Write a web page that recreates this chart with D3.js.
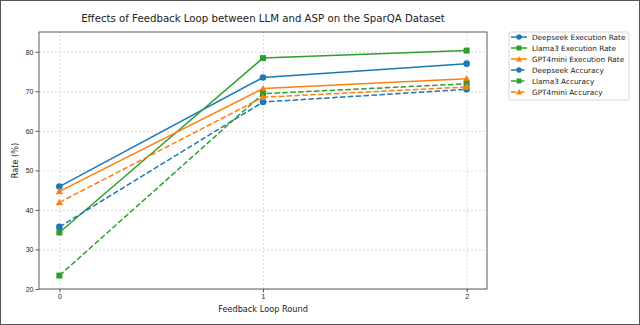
<!DOCTYPE html>
<html>
<head>
<meta charset="utf-8">
<script src="https://cdn.jsdelivr.net/npm/d3@7"></script>
<style>
  body { margin: 0; background: #fff; }
  svg { display: block; font-family: "DejaVu Sans", sans-serif; }
  .grid line { stroke: #d0d0d0; stroke-dasharray: 2,2; stroke-width: 0.8; }
  .grid path { display: none; }
  .axis path, .axis line { stroke: #333; stroke-width: 0.8; }
  .axis text { font-size: 7px; fill: #222; }
</style>
</head>
<body>
<div id="chart"></div>
<script>
// === data ===
const rounds = [0, 1, 2];
const yTicks = [20, 30, 40, 50, 60, 70, 80];

const deepseekExec = [45.9, 73.5, 77.0];
const llama3Exec   = [34.3, 78.4, 80.3];
const gpt4miniExec = [44.7, 70.7, 73.2];
const deepseekAcc  = [35.7, 67.3, 70.5];
const llama3Acc    = [23.4, 69.4, 71.9];
const gpt4miniAcc  = [41.9, 68.5, 71.1];

const series = [
  {name: "Deepseek Execution Rate", values: deepseekExec, color: "#1f77b4", marker: "circle", dashed: false},
  {name: "Llama3 Execution Rate",   values: llama3Exec,   color: "#2ca02c", marker: "square", dashed: false},
  {name: "GPT4mini Execution Rate", values: gpt4miniExec, color: "#ff7f0e", marker: "triangle", dashed: false},
  {name: "Deepseek Accuracy",       values: deepseekAcc,  color: "#1f77b4", marker: "circle", dashed: true},
  {name: "Llama3 Accuracy",         values: llama3Acc,    color: "#2ca02c", marker: "square", dashed: true},
  {name: "GPT4mini Accuracy",       values: gpt4miniAcc,  color: "#ff7f0e", marker: "triangle", dashed: true}
];

// === layout ===
const width = 640, height = 325;
const plot = {left: 39, right: 487, top: 32, bottom: 289};

const svg = d3.select("#chart").append("svg")
  .attr("width", width).attr("height", height);

svg.append("rect").attr("x", 0.5).attr("y", 0.5)
  .attr("width", width - 1).attr("height", height - 1)
  .attr("fill", "#fff").attr("stroke", "#555").attr("stroke-width", 1);

const x = d3.scaleLinear().domain([-0.1, 2.1]).range([plot.left, plot.right]);
const y = d3.scaleLinear().domain([20, 85]).range([plot.bottom, plot.top]);

// grid
svg.append("g").attr("class", "grid")
  .attr("transform", `translate(0,${plot.bottom})`)
  .call(d3.axisBottom(x).tickValues(rounds).tickSize(-(plot.bottom - plot.top)).tickFormat(""));
svg.append("g").attr("class", "grid")
  .attr("transform", `translate(${plot.left},0)`)
  .call(d3.axisLeft(y).tickValues(yTicks).tickSize(-(plot.right - plot.left)).tickFormat(""));

// axes
svg.append("g").attr("class", "axis")
  .attr("transform", `translate(0,${plot.bottom})`)
  .call(d3.axisBottom(x).tickValues(rounds).tickFormat(d3.format("d")).tickSize(3.5).tickPadding(2))
  .select(".domain").remove();
svg.append("g").attr("class", "axis")
  .attr("transform", `translate(${plot.left},0)`)
  .call(d3.axisLeft(y).tickValues(yTicks).tickSize(3.5).tickPadding(2))
  .select(".domain").remove();

svg.append("rect")
  .attr("x", plot.left).attr("y", plot.top)
  .attr("width", plot.right - plot.left).attr("height", plot.bottom - plot.top)
  .attr("fill", "none").attr("stroke", "#333").attr("stroke-width", 0.8);

// markers
function drawMarker(g, type, cx, cy, color, s) {
  if (type === "circle") {
    g.append("circle").attr("cx", cx).attr("cy", cy).attr("r", s * 0.55).attr("fill", color);
  } else if (type === "square") {
    g.append("rect").attr("x", cx - s * 0.5).attr("y", cy - s * 0.5)
      .attr("width", s).attr("height", s).attr("fill", color);
  } else {
    const h = s * 0.6;
    g.append("path").attr("d", `M${cx},${cy - h} L${cx + h},${cy + h * 0.8} L${cx - h},${cy + h * 0.8} Z`)
      .attr("fill", color);
  }
}

const line = d3.line().x((d, i) => x(rounds[i])).y(d => y(d));

series.forEach(s => {
  const g = svg.append("g");
  g.append("path").datum(s.values)
    .attr("d", line)
    .attr("fill", "none")
    .attr("stroke", s.color)
    .attr("stroke-width", 1.5)
    .attr("stroke-dasharray", s.dashed ? "5.5,2.4" : null);
  s.values.forEach((v, i) => drawMarker(g, s.marker, x(rounds[i]), y(v), s.color, 6));
});

// title and labels
svg.append("text").attr("x", (plot.left + plot.right) / 2).attr("y", 22)
  .attr("text-anchor", "middle").attr("font-size", 10.2).attr("fill", "#222")
  .text("Effects of Feedback Loop between LLM and ASP on the SparQA Dataset");
svg.append("text").attr("x", (plot.left + plot.right) / 2).attr("y", 312)
  .attr("text-anchor", "middle").attr("font-size", 8.2).attr("fill", "#222")
  .text("Feedback Loop Round");
svg.append("text")
  .attr("transform", `translate(18,${(plot.top + plot.bottom) / 2}) rotate(-90)`)
  .attr("text-anchor", "middle").attr("font-size", 8.2).attr("fill", "#222")
  .text("Rate (%)");

// legend
const legend = svg.append("g").attr("transform", "translate(509,32)");
legend.append("rect").attr("x", 0).attr("y", 0).attr("width", 120).attr("height", 68)
  .attr("rx", 2).attr("fill", "#fff").attr("stroke", "#ccc").attr("stroke-width", 0.8);
series.forEach((s, i) => {
  const ly = 5 + i * 11;
  legend.append("line").attr("x1", 2).attr("x2", 18).attr("y1", ly).attr("y2", ly)
    .attr("stroke", s.color).attr("stroke-width", 1.5)
    .attr("stroke-dasharray", s.dashed ? "5.5,2.4" : null);
  drawMarker(legend, s.marker, 10, ly, s.color, 5);
  legend.append("text").attr("x", 23).attr("y", ly + 2.6)
    .attr("font-size", 7.3).attr("fill", "#222").text(s.name);
});
</script>
</body>
</html>
